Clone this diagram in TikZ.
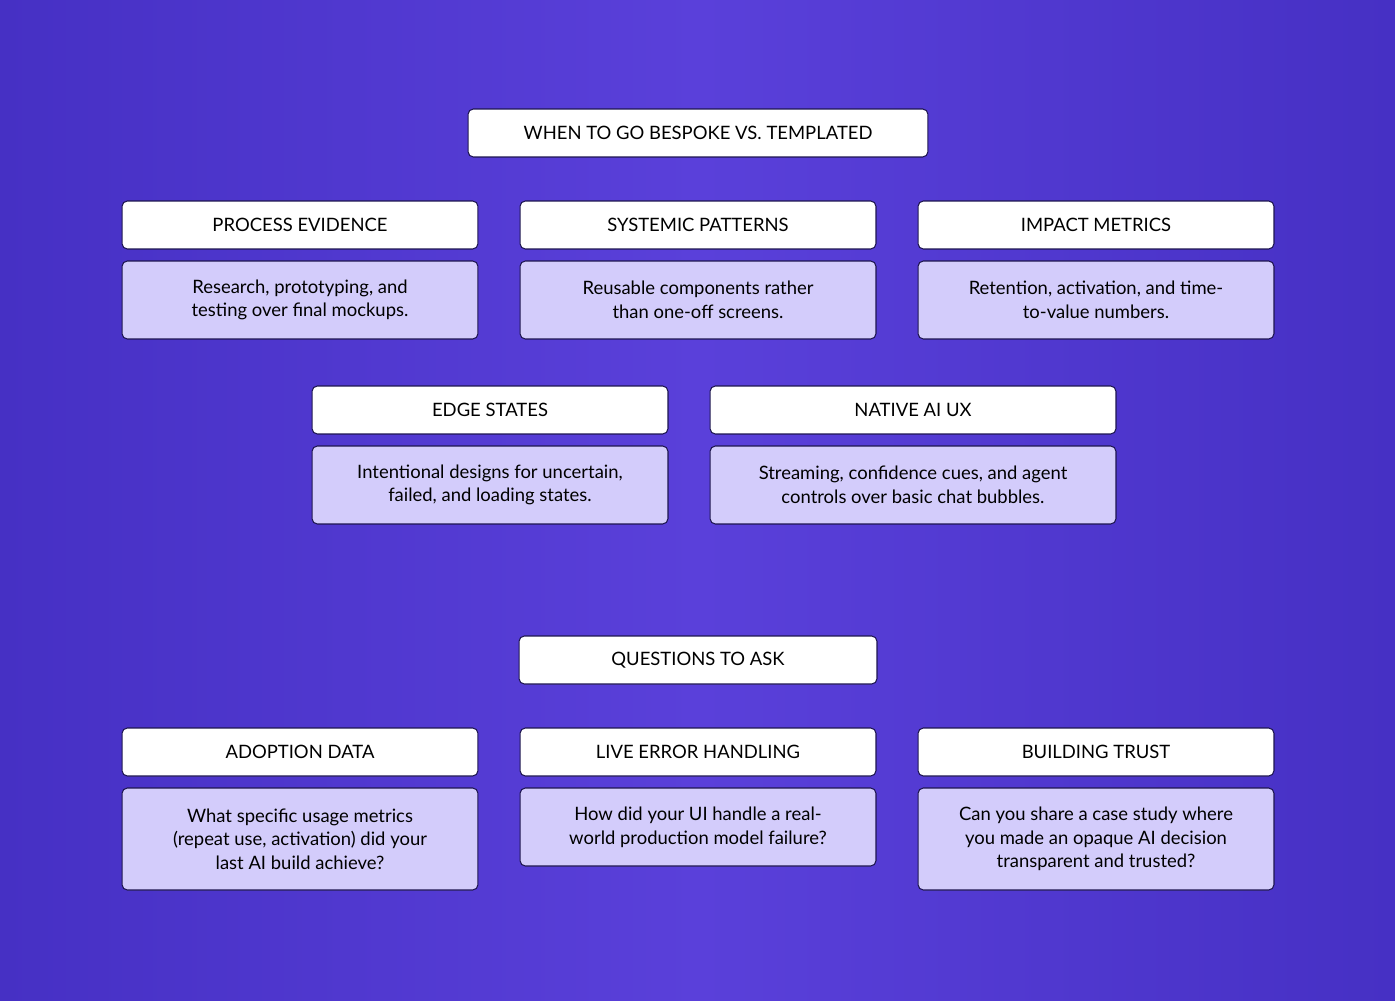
\documentclass[tikz,border=0pt]{standalone}
\usepackage{fontspec}
\setmainfont{Lato}
\definecolor{bgdark}{HTML}{4630C4}
\definecolor{bglight}{HTML}{5A40DA}
\definecolor{boxfill}{HTML}{D3CCFB}
\definecolor{boxline}{HTML}{1E1650}
\tikzset{
    head/.style = {draw=boxline, fill=white, rounded corners=3pt, line width=0.6pt,
        minimum height=0.96cm, inner sep=0pt, align=center, font=\fontsize{10.5}{12}\selectfont},
    body/.style = {draw=boxline, fill=boxfill, rounded corners=3pt, line width=0.6pt,
        inner sep=0pt, align=center, font=\fontsize{10.5}{13.5}\selectfont},
}
\begin{document}
\begin{tikzpicture}[x=0.02cm, y=-0.02cm]
    % background
    \shade[left color=bgdark, right color=bgdark, middle color=bglight] (0,0) rectangle (1395,1000);
    \useasboundingbox (0,0) rectangle (1395,1000);
    % top part
    \node [head, minimum width=9.2cm] (bespoke) at (698,133) {WHEN TO GO BESPOKE VS. TEMPLATED};
    \node [head, minimum width=7.12cm] (process) at (300,225) {PROCESS EVIDENCE};
    \node [head, minimum width=7.12cm] (systemic) at (698,225) {SYSTEMIC PATTERNS};
    \node [head, minimum width=7.12cm] (impact) at (1096,225) {IMPACT METRICS};
    \node [body, minimum width=7.12cm, minimum height=1.56cm] (processb) at (300,300) {Research, prototyping, and\\testing over final mockups.};
    \node [body, minimum width=7.12cm, minimum height=1.56cm] (systemicb) at (698,300) {Reusable components rather\\than one-off screens.};
    \node [body, minimum width=7.12cm, minimum height=1.56cm] (impactb) at (1096,300) {Retention, activation, and time-\\to-value numbers.};
    \node [head, minimum width=7.12cm] (edge) at (490,410) {EDGE STATES};
    \node [head, minimum width=8.12cm] (native) at (913,410) {NATIVE AI UX};
    \node [body, minimum width=7.12cm, minimum height=1.56cm] (edgeb) at (490,485) {Intentional designs for uncertain,\\failed, and loading states.};
    \node [body, minimum width=8.12cm, minimum height=1.56cm] (nativeb) at (913,485) {Streaming, confidence cues, and agent\\controls over basic chat bubbles.};
    % bottom part
    \node [head, minimum width=7.16cm] (questions) at (698,660) {QUESTIONS TO ASK};
    \node [head, minimum width=7.12cm] (adoption) at (300,752) {ADOPTION DATA};
    \node [head, minimum width=7.12cm] (live) at (698,752) {LIVE ERROR HANDLING};
    \node [head, minimum width=7.12cm] (trust) at (1096,752) {BUILDING TRUST};
    \node [body, minimum width=7.12cm, minimum height=2.04cm] (adoptionb) at (300,839) {What specific usage metrics\\(repeat use, activation) did your\\last AI build achieve?};
    \node [body, minimum width=7.12cm, minimum height=1.56cm] (liveb) at (698,827) {How did your UI handle a real-\\world production model failure?};
    \node [body, minimum width=7.12cm, minimum height=2.04cm] (trustb) at (1096,839) {Can you share a case study where\\you made an opaque AI decision\\transparent and trusted?};
\end{tikzpicture}
\end{document}
